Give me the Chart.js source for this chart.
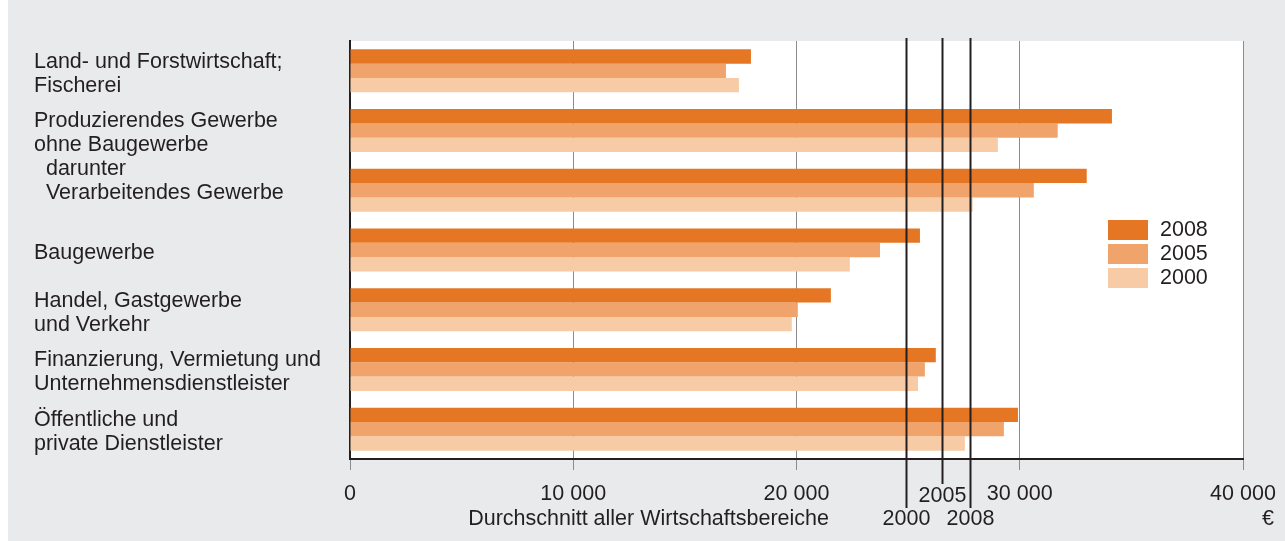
<!DOCTYPE html>
<html>
<head>
<meta charset="utf-8">
<script src="https://cdn.jsdelivr.net/npm/chart.js@4.4.1/dist/chart.umd.min.js"></script>
<style>
  html, body { margin: 0; padding: 0; background: #ffffff; }
  #wrap { position: absolute; left: 8px; top: 0; width: 1277px; height: 541px; background: #e9eaec; }
  canvas { display: block; }
</style>
</head>
<body>
<div id="wrap"><canvas id="chart" width="1277" height="541"></canvas></div>
<script>
// Kategorien (Wirtschaftsbereiche)
const categories = [
  ['Land- und Forstwirtschaft;', 'Fischerei'],
  ['Produzierendes Gewerbe', 'ohne Baugewerbe'],
  ['\u00a0\u00a0darunter', '\u00a0\u00a0Verarbeitendes Gewerbe', ''],
  'Baugewerbe',
  ['Handel, Gastgewerbe', 'und Verkehr'],
  ['Finanzierung, Vermietung und', 'Unternehmensdienstleister'],
  ['Öffentliche und', 'private Dienstleister']
];

// Bruttojahresverdienste in Euro
const values2008 = [17960, 34130, 33000, 25530, 21540, 26240, 29920];
const values2005 = [16840, 31700, 30630, 23740, 20060, 25750, 29290];
const values2000 = [17420, 29020, 27890, 22390, 19790, 25440, 27540];

const years = ['2008', '2005', '2000'];
const colors = ['#e57724', '#f0a46c', '#f6cba5'];

// Durchschnitt aller Wirtschaftsbereiche
const avgYears = ['2000', '2005', '2008'];
const avgValues = [24910, 26510, 27765];

const xTickLabels = ['0', '10 000', '20 000', '30 000', '40 000'];

const FONT = '"Liberation Sans", Arial, sans-serif';
const FSIZE = 21.5;
const TEXT = '#231f20';

// weißer Hintergrund der Zeichenfläche
const plotBg = {
  id: 'plotBg',
  beforeDraw(chart) {
    const { ctx, chartArea: a } = chart;
    ctx.save();
    ctx.fillStyle = '#ffffff';
    ctx.fillRect(a.left, a.top, a.right - a.left, a.bottom - a.top);
    ctx.restore();
  }
};

// Durchschnittslinien + Beschriftung
const avgLines = {
  id: 'avgLines',
  afterDatasetsDraw(chart) {
    const { ctx, scales: { x } } = chart;
    ctx.save();
    ctx.strokeStyle = TEXT;
    ctx.lineWidth = 2;
    ctx.fillStyle = TEXT;
    ctx.font = FSIZE + 'px ' + FONT;
    ctx.textAlign = 'center';
    ctx.textBaseline = 'middle';
    avgValues.forEach((v, i) => {
      const px = Math.round(x.getPixelForValue(v)) + 0.5;
      const low = avgYears[i] === '2005';
      ctx.beginPath();
      ctx.moveTo(px, 38);
      ctx.lineTo(px, low ? 484 : 508);
      ctx.stroke();
      ctx.fillText(avgYears[i], px, low ? 496 : 519);
    });
    ctx.textAlign = 'right';
    ctx.fillText('Durchschnitt aller Wirtschaftsbereiche', 821, 519);
    ctx.fillText('€', 1266, 519);
    ctx.restore();
  }
};

// Legende innerhalb der Zeichenfläche
const boxLegend = {
  id: 'boxLegend',
  afterDraw(chart) {
    const { ctx } = chart;
    ctx.save();
    ctx.font = FSIZE + 'px ' + FONT;
    ctx.textBaseline = 'middle';
    ctx.textAlign = 'left';
    chart.data.datasets.forEach((ds, i) => {
      const y = 220 + i * 24;
      ctx.fillStyle = ds.backgroundColor;
      ctx.fillRect(1100, y, 40, 20);
      ctx.fillStyle = TEXT;
      ctx.fillText(ds.label, 1152, y + 10);
    });
    ctx.restore();
  }
};

const datasets = [values2008, values2005, values2000].map((vals, i) => ({
  label: years[i],
  data: vals,
  backgroundColor: colors[i],
  borderWidth: 0,
  categoryPercentage: 0.72,
  barPercentage: 1.0
}));

new Chart(document.getElementById('chart'), {
  type: 'bar',
  data: { labels: categories, datasets: datasets },
  options: {
    indexAxis: 'y',
    responsive: false,
    animation: false,
    layout: { padding: { left: 26, right: 42, top: 41, bottom: 0 } },
    plugins: { legend: { display: false }, tooltip: { enabled: false } },
    scales: {
      x: {
        min: 0,
        max: 40000,
        ticks: {
          stepSize: 10000,
          color: TEXT,
          padding: 12,
          maxRotation: 0,
          font: { family: FONT, size: FSIZE, lineHeight: '24px' },
          callback: (v, i) => xTickLabels[i]
        },
        grid: { color: '#8c8c8c', lineWidth: 1, tickLength: 11 },
        border: { display: true, color: TEXT, width: 2 },
        afterFit(scale) {
          scale.height = 82;
          scale.paddingLeft = 0;
          scale.paddingRight = 0;
        }
      },
      y: {
        ticks: {
          color: TEXT,
          crossAlign: 'far',
          autoSkip: false,
          labelOffset: 3,
          font: { family: FONT, size: FSIZE, lineHeight: '24px' }
        },
        grid: { display: false },
        border: { display: true, color: TEXT, width: 2 },
        afterFit(scale) { scale.width = 316; }
      }
    }
  },
  plugins: [plotBg, avgLines, boxLegend]
});
</script>
</body>
</html>
